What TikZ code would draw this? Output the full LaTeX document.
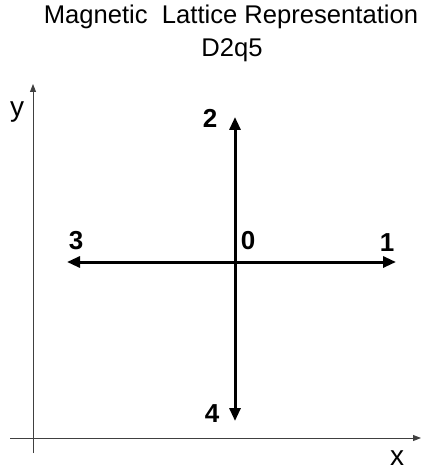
\documentclass[tikz,border=0pt]{standalone}
\usepackage{fontspec}
\setmainfont{Liberation Sans}
\usetikzlibrary{arrows.meta}
\begin{document}
\begin{tikzpicture}[x=1pt,y=-1pt,
  axis/.style={draw=black!75,line width=0.9pt,-{Triangle[width=6pt,length=8pt]}},
  vec/.style={line width=3pt,{Triangle[width=11pt,length=13pt]}-{Triangle[width=11pt,length=13pt]}},
  lbl/.style={font=\fontsize{26}{26}\selectfont\bfseries,inner sep=0pt},
  axl/.style={font=\fontsize{28}{28}\selectfont,inner sep=0pt},
  ttl/.style={font=\fontsize{25.6}{30}\selectfont,inner sep=0pt,align=center}]
\useasboundingbox (0,0) rectangle (424,473);
\node[ttl] (t1) at (231,17) {Magnetic\ \ Lattice Representation};
\node[ttl] (t2) at (232,50) {D2q5};
% axes
\coordinate (yb) at (33,453);
\coordinate (yt) at (33,84);
\coordinate (xl) at (10,438);
\coordinate (xr) at (421,438);
\draw[axis] (yb) -- (yt);
\draw[axis] (xl) -- (xr);
\node[axl] (ylab) at (17,112) {y};
\node[axl] (xlab) at (397,458) {x};
% lattice vectors
\coordinate (c2) at (235,117);
\coordinate (c4) at (235,421);
\coordinate (c3) at (67,262);
\coordinate (c1) at (396,262);
\draw[vec] (c4) -- (c2);
\draw[vec] (c3) -- (c1);
\node[lbl] (n2) at (210,118) {2};
\node[lbl] (n0) at (248,241) {0};
\node[lbl] (n3) at (76,241) {3};
\node[lbl] (n1) at (387,243) {1};
\node[lbl] (n4) at (212,414) {4};
\end{tikzpicture}
\end{document}
